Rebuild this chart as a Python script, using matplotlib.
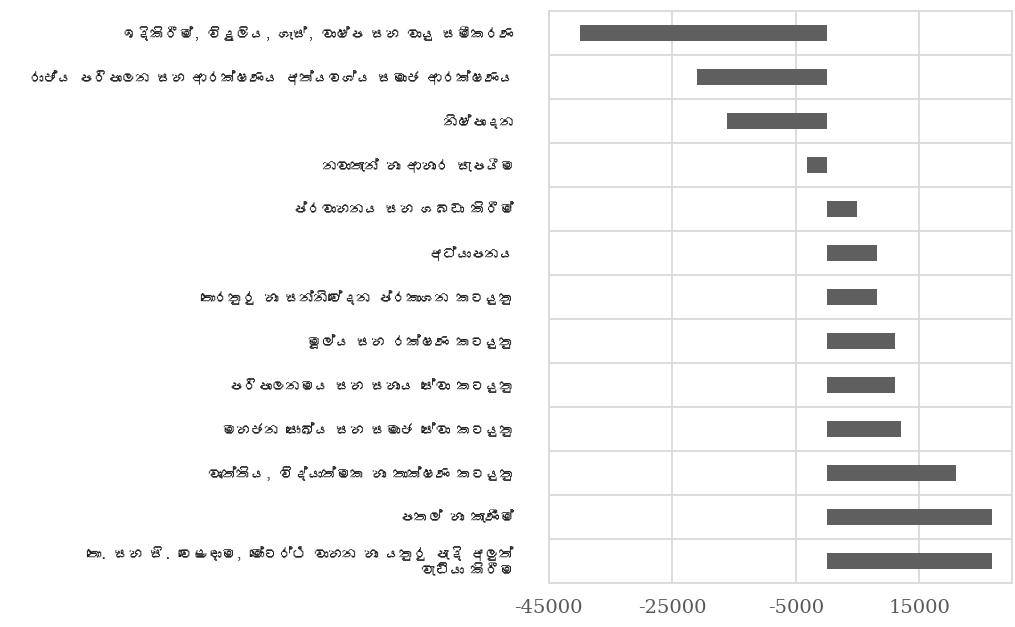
import matplotlib
matplotlib.use("Agg")
import matplotlib.pyplot as plt
from matplotlib import font_manager
from matplotlib.ft2font import FT2Font

categories = [
    "ඉදිකිරීම්, විදුලිය, ගෑස්, වාෂ්ප සහ වායු සමීකරණ",
    "රාජ්‍ය පරිපාලන සහ ආරක්ෂණය අත්‍යවශ්‍ය සමාජ ආරක්ෂණය",
    "නිෂ්පාදන",
    "නවාතැන් හා ආහාර සැපයීම",
    "ප්‍රවාහනය සහ ගබඩා කිරීම්",
    "අධ්‍යාපනය",
    "තොරතුරු හා සන්නිවේදන ප්‍රකාශන කටයුතු",
    "මූල්‍ය සහ රක්ෂණ කටයුතු",
    "පරිපාලනමය සහ සහාය සේවා කටයුතු",
    "මහජන සෞඛ්‍ය සහ සමාජ සේවා කටයුතු",
    "වෘත්තිය, විද්‍යාත්මක හා තාක්ෂණ කටයුතු",
    "පතල් හා කැණීම්",
    "තො. සහ සි. වෙළඳාම, මෝටර්ථ වාහන හා යතුරු පැදි අලුත්\nවැඩියා කිරීම",
]
values = [-40000, -21000, -16100, -3200, 4900, 8100, 8100,
          11000, 11000, 12000, 21000, 26800, 26800]
xticks = [-45000, -25000, -5000, 15000]

# find a font that covers Sinhala, if any
label_family = ["DejaVu Sans"]
for fe in font_manager.fontManager.ttflist:
    try:
        cmap = FT2Font(fe.fname).get_charmap()
    except Exception:
        continue
    if 0x0DC3 in cmap and 0x0DCA in cmap:
        label_family = [fe.name, "DejaVu Sans"]
        break

# matplotlib cannot shape the zero-width joiner (it draws a box), so drop it
shown = [c.replace("\u200d", "") for c in categories]

fig = plt.figure(figsize=(10.15, 6.27), dpi=100)
ax = fig.add_axes([0.5406, 0.0707, 0.4564, 0.9118])

pos = list(range(len(categories)))
ax.barh(pos, values, height=0.36, color="#5f5f5f", zorder=3)

ax.set_xlim(-45000, 30000)
ax.set_ylim(len(categories) - 0.5, -0.5)
ax.set_xticks(xticks)
ax.set_xticklabels([str(v) for v in xticks], family="DejaVu Serif",
                   fontsize=14, color="#595959")
ax.set_yticks(pos)
ax.set_yticklabels(shown, family=label_family, fontsize=10.3,
                   color="#222222", ha="right", linespacing=1.1)
ax.set_yticks([p + 0.5 for p in pos[:-1]], minor=True)

ax.tick_params(axis="y", which="both", length=0, pad=25)
ax.tick_params(axis="x", length=0, pad=12)

ax.grid(axis="x", which="major", color="#d9d9d9", linewidth=1.3, zorder=0)
ax.grid(axis="y", which="minor", color="#d9d9d9", linewidth=1.3, zorder=0)
ax.grid(axis="y", which="major", visible=False)
for s in ax.spines.values():
    s.set_color("#d9d9d9")
    s.set_linewidth(1.3)

fig.savefig("out.png", dpi=100)
